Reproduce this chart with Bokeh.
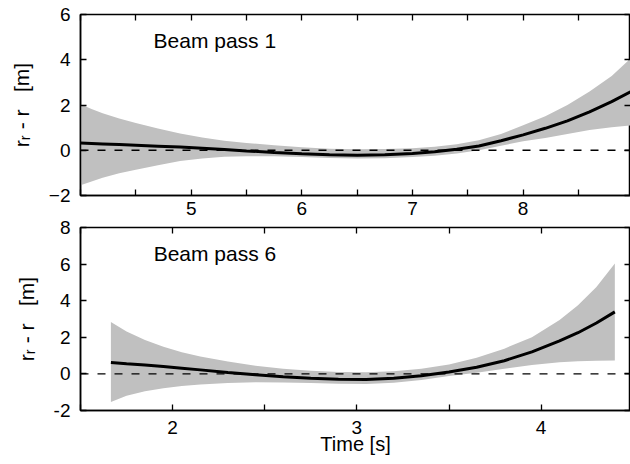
from bokeh.plotting import figure
from bokeh.layouts import column
from bokeh.models import Range1d, FixedTicker, LinearAxis, Span, Label
from bokeh.embed import file_html
from bokeh.resources import INLINE

# ---------------- data: beam pass 1 ----------------
t1 = [4.0, 4.1, 4.2, 4.35, 4.5, 4.7, 4.9, 5.1, 5.3, 5.5, 5.75, 6.0, 6.25, 6.5,
      6.75, 7.0, 7.2, 7.4, 7.6, 7.8, 8.0, 8.2, 8.4, 8.6, 8.8, 8.97]
mean1 = [0.32, 0.30, 0.28, 0.25, 0.22, 0.18, 0.14, 0.09, 0.03, -0.03, -0.10,
         -0.16, -0.20, -0.22, -0.20, -0.14, -0.07, 0.04, 0.19, 0.42, 0.68, 0.97,
         1.30, 1.70, 2.15, 2.58]
upper1 = [2.03, 1.82, 1.63, 1.40, 1.20, 0.96, 0.74, 0.56, 0.42, 0.32, 0.22,
          0.13, 0.07, 0.04, 0.05, 0.09, 0.15, 0.26, 0.44, 0.72, 1.10, 1.50, 2.00,
          2.60, 3.28, 4.05]
lower1 = [-1.55, -1.38, -1.22, -1.02, -0.86, -0.66, -0.48, -0.36, -0.29, -0.26,
          -0.26, -0.30, -0.34, -0.36, -0.35, -0.30, -0.24, -0.14, 0.00, 0.20,
          0.40, 0.54, 0.72, 0.90, 1.02, 1.10]

# ---------------- data: beam pass 6 ----------------
t6 = [1.665, 1.75, 1.85, 1.95, 2.05, 2.15, 2.3, 2.45, 2.6, 2.75, 2.9, 3.05,
      3.2, 3.35, 3.5, 3.65, 3.8, 3.95, 4.1, 4.2, 4.3, 4.40]
mean6 = [0.62, 0.55, 0.48, 0.40, 0.31, 0.22, 0.08, -0.05, -0.16, -0.24, -0.29,
         -0.30, -0.24, -0.10, 0.10, 0.36, 0.72, 1.20, 1.80, 2.25, 2.78, 3.39]
upper6 = [2.84, 2.32, 1.85, 1.48, 1.18, 0.95, 0.68, 0.45, 0.28, 0.17, 0.10,
          0.09, 0.14, 0.28, 0.52, 0.88, 1.38, 2.00, 2.95, 3.75, 4.75, 6.03]
lower6 = [-1.53, -1.20, -0.95, -0.78, -0.66, -0.58, -0.50, -0.46, -0.47, -0.50,
          -0.54, -0.55, -0.48, -0.33, -0.12, 0.06, 0.28, 0.48, 0.63, 0.69, 0.72,
          0.73]

# ---------------- ticks ----------------
xticks1 = [4.0, 4.5, 5.0, 5.5, 6.0, 6.5, 7.0, 7.5, 8.0, 8.5, 9.0]
xlabels1 = {5.0: "5", 6.0: "6", 7.0: "7", 8.0: "8"}
yticks1 = [-2, 0, 2, 4, 6]
ylabels1 = {-2: "\u22122", 0: "0", 2: "2", 4: "4", 6: "6"}

xticks6 = [1.5, 2.0, 2.5, 3.0, 3.5, 4.0, 4.5]
xlabels6 = {2.0: "2", 3.0: "3", 4.0: "4"}
yticks6 = [-2, 0, 2, 4, 6, 8]
ylabels6 = {-2: "-2", 0: "0", 2: "2", 4: "4", 6: "6", 8: "8"}

titles = ["Beam pass 1", "Beam pass 6"]
ylabel = "r\u1d63 - r \u00a0 [m]"
xlabel = "Time [s]"

FONT = "Liberation Sans"
BAND = "#c0c0c0"
TICKFS = "19px"


def blank_labels(ticks):
    return {t: "" for t in ticks}


def tick_only_axis(ticks):
    ax = LinearAxis(ticker=FixedTicker(ticks=ticks),
                    major_label_overrides=blank_labels(ticks))
    ax.major_tick_in = 6
    ax.major_tick_out = 0
    ax.minor_tick_line_color = None
    ax.axis_line_color = None
    ax.major_tick_line_width = 1.3
    ax.major_label_text_font_size = "1px"
    ax.major_label_standoff = 0
    return ax


def style_axis(ax):
    ax.major_tick_in = 6
    ax.major_tick_out = 0
    ax.minor_tick_line_color = None
    ax.axis_line_color = "black"
    ax.axis_line_width = 1.5
    ax.major_tick_line_width = 1.3
    ax.major_label_text_font = FONT
    ax.major_label_text_font_size = TICKFS
    ax.major_label_text_color = "black"
    ax.axis_label_text_font = FONT
    ax.axis_label_text_font_size = "20px"
    ax.axis_label_text_font_style = "normal"
    ax.axis_label_text_color = "black"


def make_panel(t, mean, up, lo, xr, yr, xt, xl, yt, yl, title, tpos,
               height, bt, bb, xstand, xlab=None):
    p = figure(width=630, height=height, x_range=Range1d(*xr), y_range=Range1d(*yr),
               output_backend="svg", toolbar_location=None,
               x_axis_location=None, y_axis_location=None,
               min_border_left=80, min_border_right=0,
               min_border_top=bt, min_border_bottom=bb)
    p.xgrid.visible = False
    p.ygrid.visible = False
    p.outline_line_color = "black"
    p.outline_line_width = 1.5
    p.background_fill_color = "white"

    p.varea(x=t, y1=lo, y2=up, fill_color=BAND, fill_alpha=1.0)
    p.add_layout(Span(location=0, dimension="width", line_color="black",
                      line_width=1.3, line_dash="8 9"))
    p.line(x=t, y=mean, line_color="black", line_width=3)

    ya = LinearAxis(ticker=FixedTicker(ticks=yt), major_label_overrides=yl)
    style_axis(ya)
    ya.axis_label_text_font_size = "21px"
    ya.major_label_standoff = 10
    ya.axis_label = ylabel
    ya.axis_label_standoff = 13
    p.add_layout(ya, "left")
    p.add_layout(tick_only_axis(yt), "right")

    xa = LinearAxis(ticker=FixedTicker(ticks=xt),
                    major_label_overrides={**blank_labels(xt), **xl})
    style_axis(xa)
    xa.major_label_standoff = xstand
    if xlab is not None:
        xa.axis_label = xlab
        xa.axis_label_standoff = -4
    p.add_layout(xa, "below")
    p.add_layout(tick_only_axis(xt), "above")

    p.add_layout(Label(x=tpos[0], y=tpos[1], text=title, text_baseline="middle",
                       text_align="left", text_font=FONT, text_font_size="21px",
                       text_color="black"))
    return p


OVERLAP = 15

# top panel: frame 14..195, canvas 0..225
p1 = make_panel(t1, mean1, upper1, lower1, (4.0, 8.97), (-2, 6),
                xticks1, xlabels1, yticks1, ylabels1, titles[0], (4.66, 4.87),
                225, 14, 30, 6)
p1.border_fill_color = "white"

# bottom panel: canvas 210..464 (overlapping the gap), frame 227..410
p6 = make_panel(t6, mean6, upper6, lower6, (1.5, 4.485), (-2, 8),
                xticks6, xlabels6, yticks6, ylabels6, titles[1], (1.897, 6.56),
                254, 17, 54, 10, xlab=xlabel)
p6.border_fill_color = None
p6.margin = (-OVERLAP, 0, 0, 0)

layout = column(p1, p6, spacing=0)

with open("out.html", "w") as f:
    f.write(file_html(layout, INLINE))
